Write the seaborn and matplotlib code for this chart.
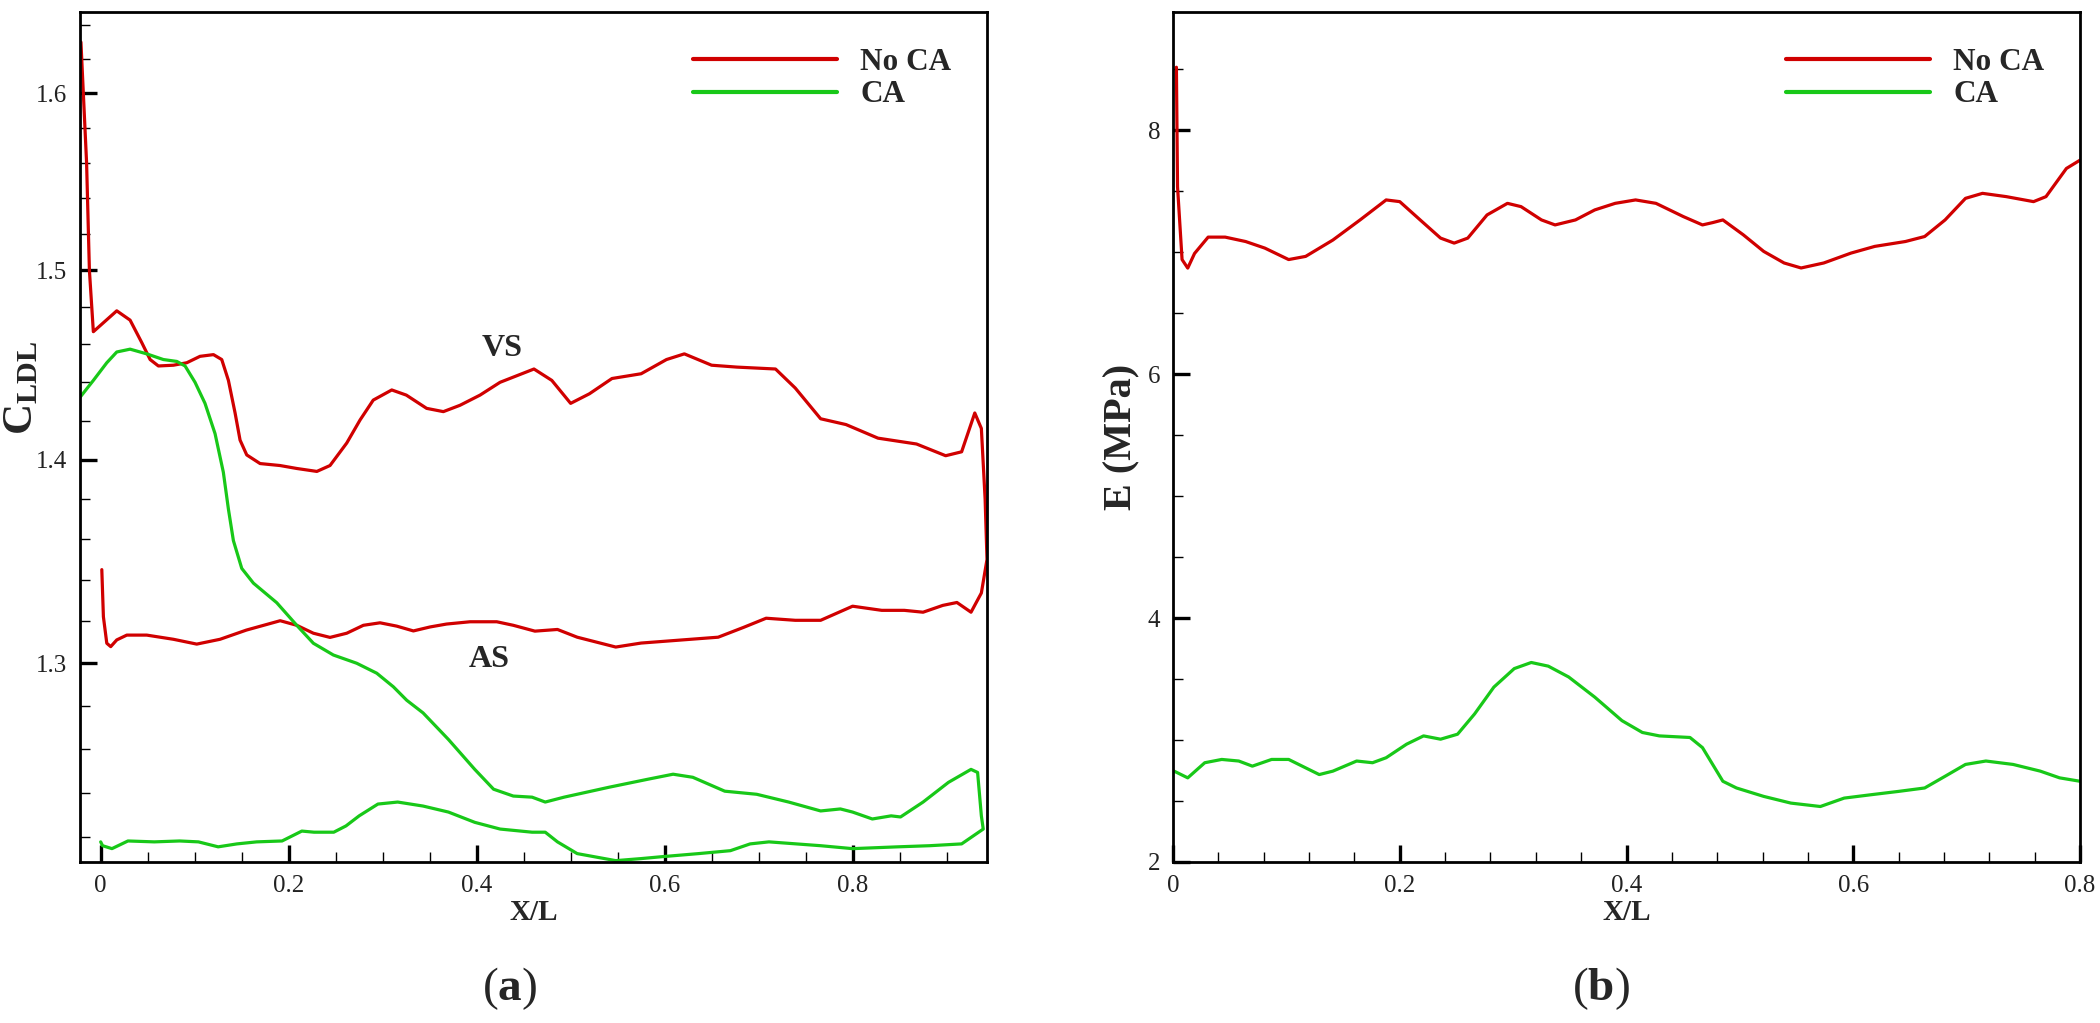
import numpy as np
import pandas as pd
import matplotlib
matplotlib.use("Agg")
import matplotlib.pyplot as plt
import seaborn as sns
from matplotlib.ticker import FixedLocator, FuncFormatter, NullFormatter

# ---------------- data (a) : C_LDL vs X/L ----------------
vs_noca_x = [-0.021, -0.015, -0.012, -0.0078, 0.0171, 0.0313, 0.0437, 0.0526, 0.0614, 0.0774,
             0.0916, 0.1057, 0.120, 0.1288, 0.1359, 0.143, 0.1483, 0.1554, 0.1696, 0.1908,
             0.2086, 0.23, 0.244, 0.2618, 0.276, 0.290, 0.3097, 0.3252, 0.3468, 0.3646, 0.3823,
             0.4036, 0.4249, 0.461, 0.48, 0.50, 0.52, 0.544, 0.575, 0.602, 0.621, 0.65, 0.677,
             0.718, 0.739, 0.766, 0.793, 0.827, 0.868, 0.899, 0.916, 0.93, 0.937, 0.941, 0.943]
vs_noca_y = [1.63, 1.56, 1.50, 1.4668, 1.478, 1.473, 1.461, 1.452, 1.4486, 1.449,
             1.4503, 1.4537, 1.4546, 1.452, 1.441, 1.424, 1.41, 1.4024, 1.398, 1.397,
             1.3955, 1.394, 1.397, 1.4085, 1.4204, 1.4307, 1.436, 1.4333, 1.4264, 1.4247, 1.428,
             1.4333, 1.440, 1.447, 1.441, 1.429, 1.434, 1.442, 1.4445, 1.452, 1.455, 1.449, 1.448,
             1.447, 1.437, 1.421, 1.418, 1.411, 1.408, 1.402, 1.404, 1.424, 1.416, 1.38, 1.35]
as_noca_x = [0.0012, 0.0029, 0.0065, 0.0107, 0.0171, 0.0278, 0.049, 0.0774, 0.1022, 0.127,
             0.155, 0.191, 0.2086, 0.2263, 0.244, 0.2618, 0.2795, 0.2972, 0.315, 0.3327,
             0.3504, 0.368, 0.393, 0.4214, 0.439, 0.462, 0.486, 0.507, 0.548, 0.575, 0.616,
             0.657, 0.684, 0.708, 0.739, 0.766, 0.80, 0.831, 0.855, 0.875, 0.896, 0.911, 0.926,
             0.937]
as_noca_y = [1.345, 1.3221, 1.3094, 1.3078, 1.311, 1.3133, 1.3133, 1.3113, 1.309, 1.3113,
             1.3157, 1.3202, 1.318, 1.3142, 1.3122, 1.3142, 1.318, 1.3192, 1.3176, 1.3153,
             1.3172, 1.3186, 1.3197, 1.3197, 1.318, 1.3152, 1.316, 1.3123, 1.3076, 1.3095,
             1.3109, 1.3123, 1.317, 1.3214, 1.3204, 1.3204, 1.3272, 1.3252, 1.3252, 1.3243,
             1.3276, 1.329, 1.3243, 1.3336]

vs_ca_x = [-0.0219, -0.0078, 0.0065, 0.0171, 0.0313, 0.049, 0.0667, 0.081, 0.0898, 0.1004,
           0.111, 0.1217, 0.1305, 0.1359, 0.1412, 0.1501, 0.1625, 0.1873, 0.2086, 0.2263,
           0.2476, 0.2724, 0.2937, 0.3114, 0.3256, 0.343, 0.37, 0.398, 0.418, 0.439, 0.459,
           0.473, 0.493, 0.541, 0.582, 0.609, 0.63, 0.664, 0.698, 0.732, 0.766, 0.787, 0.80,
           0.821, 0.841, 0.851, 0.875, 0.902, 0.926, 0.933, 0.937, 0.939]
vs_ca_y = [1.4322, 1.441, 1.4503, 1.456, 1.4575, 1.455, 1.452, 1.451, 1.4486, 1.440,
           1.429, 1.4133, 1.3936, 1.375, 1.3593, 1.3456, 1.3384, 1.3289, 1.318, 1.3094,
           1.3038, 1.2999, 1.2952, 1.2888, 1.2825, 1.2766, 1.2643, 1.2506, 1.2416, 1.2385,
           1.238, 1.2358, 1.238, 1.2425, 1.2461, 1.2484, 1.247, 1.2407, 1.2393, 1.2358, 1.2318,
           1.2327, 1.2313, 1.2282, 1.2296, 1.2291, 1.2358, 1.2447, 1.2506, 1.2492, 1.2296,
           1.2237]
as_ca_x = [0.0, 0.002, 0.012, 0.029, 0.057, 0.084, 0.104, 0.125, 0.145, 0.166, 0.193, 0.214,
           0.227, 0.248, 0.261, 0.275, 0.295, 0.316, 0.343, 0.37, 0.398, 0.425, 0.459, 0.473,
           0.486, 0.507, 0.548, 0.575, 0.596, 0.636, 0.67, 0.691, 0.711, 0.766, 0.80, 0.848,
           0.882, 0.916, 0.939]
as_ca_y = [1.218, 1.2163, 1.215, 1.2184, 1.218, 1.2184, 1.218, 1.2158, 1.2171, 1.218, 1.2184,
           1.2228, 1.2223, 1.2223, 1.2251, 1.2296, 1.2349, 1.2358, 1.234, 1.2313, 1.2267, 1.2237,
           1.2223, 1.2223, 1.218, 1.2128, 1.2097, 1.2106, 1.2114, 1.2128, 1.2141, 1.2171, 1.218,
           1.2163, 1.215, 1.2158, 1.2163, 1.2171, 1.2237]

# ---------------- data (b) : E (MPa) vs X/L ----------------
e_noca_x = [0.003, 0.004, 0.008, 0.013, 0.019, 0.031, 0.046, 0.064, 0.081, 0.102, 0.117, 0.141,
            0.165, 0.188, 0.20, 0.218, 0.236, 0.248, 0.26, 0.277, 0.295, 0.307, 0.325, 0.337,
            0.355, 0.372, 0.39, 0.408, 0.426, 0.45, 0.467, 0.476, 0.485, 0.503, 0.521, 0.539,
            0.554, 0.574, 0.598, 0.619, 0.646, 0.663, 0.681, 0.699, 0.714, 0.735, 0.759, 0.77,
            0.788, 0.80]
e_noca_y = [8.517, 7.537, 6.94, 6.87, 6.99, 7.124, 7.124, 7.088, 7.034, 6.94, 6.966, 7.10,
            7.265, 7.429, 7.415, 7.265, 7.116, 7.075, 7.116, 7.306, 7.401, 7.374, 7.265, 7.224,
            7.265, 7.347, 7.401, 7.429, 7.401, 7.293, 7.224, 7.243, 7.265, 7.143, 7.007, 6.912,
            6.871, 6.912, 6.993, 7.048, 7.088, 7.129, 7.265, 7.442, 7.483, 7.456, 7.415, 7.456,
            7.687, 7.755]
e_ca_x = [0.001, 0.013, 0.028, 0.043, 0.058, 0.07, 0.087, 0.102, 0.117, 0.129, 0.141, 0.162,
          0.176, 0.188, 0.206, 0.221, 0.236, 0.251, 0.266, 0.283, 0.301, 0.316, 0.331, 0.349,
          0.372, 0.396, 0.414, 0.429, 0.456, 0.467, 0.485, 0.497, 0.521, 0.545, 0.571, 0.592,
          0.616, 0.64, 0.663, 0.681, 0.699, 0.717, 0.741, 0.765, 0.782, 0.80]
e_ca_y = [2.745, 2.69, 2.814, 2.841, 2.828, 2.786, 2.841, 2.841, 2.772, 2.717, 2.745, 2.828,
          2.814, 2.855, 2.966, 3.034, 3.007, 3.048, 3.214, 3.434, 3.586, 3.636, 3.606, 3.517,
          3.352, 3.159, 3.062, 3.034, 3.021, 2.938, 2.662, 2.607, 2.538, 2.483, 2.455, 2.524,
          2.552, 2.579, 2.607, 2.703, 2.80, 2.828, 2.80, 2.745, 2.69, 2.662]

series_names = ["No CA", "CA"]
colors = {"No CA": "#d00000", "CA": "#18c818"}

# ---------------- style ----------------
sns.set_style("ticks")
plt.rcParams["font.family"] = ["Liberation Serif", "DejaVu Serif"]
plt.rcParams["mathtext.fontset"] = "custom"
plt.rcParams["mathtext.rm"] = "Liberation Serif"
plt.rcParams["mathtext.bf"] = "Liberation Serif:bold"
plt.rcParams["mathtext.it"] = "Liberation Serif:italic"
plt.rcParams["lines.solid_joinstyle"] = "round"
plt.rcParams["lines.solid_capstyle"] = "round"

# loops: upper branch left->right, lower branch right->left
df_a = pd.concat([
    pd.DataFrame({"x": vs_noca_x + as_noca_x[::-1], "y": vs_noca_y + as_noca_y[::-1],
                  "series": "No CA"}),
    pd.DataFrame({"x": vs_ca_x + as_ca_x[::-1], "y": vs_ca_y + as_ca_y[::-1],
                  "series": "CA"}),
], ignore_index=True)
df_b = pd.concat([
    pd.DataFrame({"x": e_noca_x, "y": e_noca_y, "series": "No CA"}),
    pd.DataFrame({"x": e_ca_x, "y": e_ca_y, "series": "CA"}),
], ignore_index=True)

W, H = 2100, 1023
fig = plt.figure(figsize=(W / 100, H / 100), dpi=100)
ax1 = fig.add_axes([80 / W, 1 - 862 / H, 907 / W, 850 / H])
ax2 = fig.add_axes([1173 / W, 1 - 862 / H, 907 / W, 850 / H])

for ax, df in ((ax1, df_a), (ax2, df_b)):
    sns.lineplot(data=df, x="x", y="y", hue="series", hue_order=series_names,
                 palette=colors, sort=False, estimator=None, linewidth=2.3, ax=ax)

def style_axes(ax):
    for s in ax.spines.values():
        s.set_visible(True)
        s.set_linewidth(2.0)
        s.set_color("black")
    ax.tick_params(which="both", direction="in", top=False, right=False,
                   labelsize=18, colors="black", pad=9)
    ax.tick_params(which="major", length=12, width=2.4)
    ax.tick_params(which="minor", length=7, width=1.0)
    for lab in ax.get_xticklabels() + ax.get_yticklabels():
        lab.set_color("#222222")
    leg = ax.legend(loc="upper left", bbox_to_anchor=(0.676, 0.958), frameon=False,
                    borderpad=0, borderaxespad=0, handlelength=4.6, handletextpad=0.75,
                    labelspacing=0.12, prop={"family": "Liberation Serif", "weight": "bold",
                                             "size": 22.5})
    for line in leg.get_lines():
        line.set_linewidth(3.0)

# ---- panel (a)
ax1.set_yscale("log")
ax1.set_xlim(-0.022, 0.943)
ax1.set_ylim(1.2091, 1.648)
ax1.xaxis.set_major_locator(FixedLocator([0, 0.2, 0.4, 0.6, 0.8]))
ax1.xaxis.set_minor_locator(FixedLocator([0.05, 0.1, 0.15, 0.25, 0.3, 0.35, 0.45, 0.5, 0.55,
                                          0.65, 0.7, 0.75, 0.85, 0.9]))
ax1.yaxis.set_major_locator(FixedLocator([1.3, 1.4, 1.5, 1.6]))
ax1.yaxis.set_minor_locator(FixedLocator([v / 100 for v in range(122, 166, 2)
                                          if v not in (130, 140, 150, 160)]))
ax1.xaxis.set_major_formatter(FuncFormatter(lambda v, p: "0" if abs(v) < 1e-9 else f"{v:g}"))
ax1.yaxis.set_major_formatter(FuncFormatter(lambda v, p: f"{v:.1f}"))
ax1.yaxis.set_minor_formatter(NullFormatter())
ax1.set_xlabel("X/L", fontsize=21, fontweight="bold")
ax1.set_ylabel(r"$\mathbf{C}_{\mathbf{LDL}}$", fontsize=31)
ax1.text(0.427, 1.4576, "VS", fontsize=23, fontweight="bold", ha="center", va="center")
ax1.text(0.413, 1.3019, "AS", fontsize=23, fontweight="bold", ha="center", va="center")
style_axes(ax1)
ax1.yaxis.set_label_coords(-0.064, 0.558)
ax1.yaxis.label.set_va("center")
ax1.xaxis.set_label_coords(0.5, -0.059)
ax1.xaxis.label.set_va("center")

# ---- panel (b)
ax2.set_xlim(0, 0.8)
ax2.set_ylim(2, 8.97)
ax2.xaxis.set_major_locator(FixedLocator([0, 0.2, 0.4, 0.6, 0.8]))
ax2.xaxis.set_minor_locator(FixedLocator([0.04 * i for i in range(1, 20) if i % 5 != 0]))
ax2.yaxis.set_major_locator(FixedLocator([2, 4, 6, 8]))
ax2.yaxis.set_minor_locator(FixedLocator([2.5, 3, 3.5, 4.5, 5, 5.5, 6.5, 7, 7.5, 8.5]))
ax2.xaxis.set_major_formatter(FuncFormatter(lambda v, p: "0" if abs(v) < 1e-9 else f"{v:g}"))
ax2.yaxis.set_major_formatter(FuncFormatter(lambda v, p: f"{v:g}"))
ax2.set_xlabel("X/L", fontsize=21, fontweight="bold")
ax2.set_ylabel("E (MPa)", fontsize=29, fontweight="bold")
style_axes(ax2)
ax2.yaxis.set_label_coords(-0.056, 0.5)
ax2.yaxis.label.set_va("center")
ax2.xaxis.set_label_coords(0.5, -0.059)
ax2.xaxis.label.set_va("center")

fig.text(510 / W, 1 - 989 / H, r"($\mathbf{a}$)", fontsize=34, ha="center", va="center")
fig.text(1601 / W, 1 - 989 / H, r"($\mathbf{b}$)", fontsize=34, ha="center", va="center")

fig.savefig("out.png", dpi=100, facecolor="white")
